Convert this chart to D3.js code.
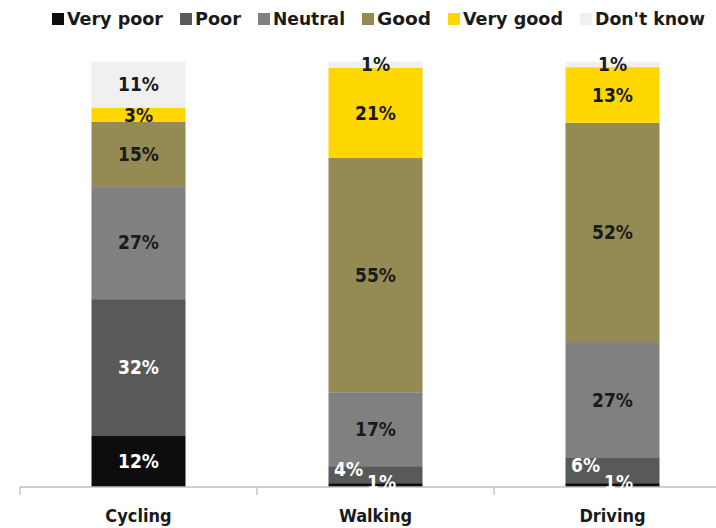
<!DOCTYPE html>
<html>
<head>
<meta charset="utf-8">
<script src="https://cdn.jsdelivr.net/npm/d3@7"></script>
<style>
  body { margin: 0; background: #fff; }
  svg { display: block; font-family: "DejaVu Sans Condensed", "Liberation Sans", sans-serif; font-weight: bold; }
</style>
</head>
<body>
<svg id="chart"></svg>
<script>
const categories = ['Cycling', 'Walking', 'Driving'];
const seriesNames = ['Very poor', 'Poor', 'Neutral', 'Good', 'Very good', "Don't know"];
// shares (labels show them rounded)
const veryPoor = [12.0, 0.9, 0.9];
const poor = [32.2, 4.0, 6.1];
const neutral = [26.6, 17.4, 27.1];
const good = [15.1, 55.1, 51.6];
const veryGood = [3.4, 21.3, 13.1];
const dontKnow = [10.8, 1.4, 1.3];

const colors = ['#0d0d0d', '#595959', '#808080', '#948a54', '#ffd700', '#f0f0f0'];
const labelColors = ['#ffffff', '#ffffff', '#1a1a1a', '#1a1a1a', '#1a1a1a', '#1a1a1a'];

// manual nudges for labels that don't fit in thin segments (category|series -> [dx, dy])
const labelNudge = {
  'Walking|Very poor': [6, -3],
  'Walking|Poor': [-27, -6],
  'Driving|Very poor': [6, -3],
  'Driving|Poor': [-27, -5]
};
// legend text widths to mimic the original narrow font
const legendWidths = [96, 46, 72, 54, 100, 110];

const W = 716, H = 528;
const svg = d3.select('#chart').attr('width', W).attr('height', H);

const rows = categories.map((c, i) => {
  const r = { category: c };
  [veryPoor, poor, neutral, good, veryGood, dontKnow].forEach((arr, j) => { r[seriesNames[j]] = arr[i]; });
  return r;
});
const stacked = d3.stack().keys(seriesNames)(rows);

const x = d3.scaleBand().domain(categories).range([20, 731]).paddingInner(0).paddingOuter(0);
const barW = 94;
const y = d3.scaleLinear().domain([0, 100]).range([487, 62]);

// bars
const layers = svg.append('g').selectAll('g')
  .data(stacked)
  .enter().append('g')
  .attr('fill', (d, i) => colors[i]);

layers.selectAll('rect')
  .data(d => d)
  .enter().append('rect')
  .attr('x', d => x(d.data.category) + (x.bandwidth() - barW) / 2)
  .attr('width', barW)
  .attr('y', d => y(d[1]))
  .attr('height', d => y(d[0]) - y(d[1]));

// axis
const axis = svg.append('g')
  .attr('transform', 'translate(0,487)');
axis.append('line')
  .attr('x1', 20).attr('x2', W)
  .attr('stroke', '#bfbfbf').attr('stroke-width', 1.3);
axis.selectAll('.tick')
  .data(categories.concat(['_end']))
  .enter().append('line')
  .attr('x1', (d, i) => 20 + i * x.bandwidth())
  .attr('x2', (d, i) => 20 + i * x.bandwidth())
  .attr('y1', 0).attr('y2', 8)
  .attr('stroke', '#bfbfbf').attr('stroke-width', 1.3);
axis.selectAll('.cat')
  .data(categories)
  .enter().append('text')
  .attr('x', d => x(d) + x.bandwidth() / 2)
  .attr('y', 35)
  .attr('text-anchor', 'middle')
  .attr('font-size', 18)
  .attr('fill', '#1a1a1a')
  .text(d => d);

// value labels
stacked.forEach((layer, j) => {
  svg.append('g').selectAll('text')
    .data(layer)
    .enter().append('text')
    .attr('x', d => {
      const n = labelNudge[d.data.category + '|' + layer.key];
      return x(d.data.category) + x.bandwidth() / 2 + (n ? n[0] : 0);
    })
    .attr('y', d => {
      const n = labelNudge[d.data.category + '|' + layer.key];
      return (y(d[0]) + y(d[1])) / 2 + (n ? n[1] : 0);
    })
    .attr('dy', '0.36em')
    .attr('text-anchor', 'middle')
    .attr('font-size', 19)
    .attr('fill', labelColors[j])
    .text(d => Math.round(d[1] - d[0]) + '%');
});

// legend
const legend = svg.append('g');
let lx = 52;
seriesNames.forEach((name, i) => {
  legend.append('rect')
    .attr('x', lx).attr('y', 13)
    .attr('width', 12).attr('height', 12)
    .attr('fill', colors[i]);
  legend.append('text')
    .attr('x', lx + 15).attr('y', 25)
    .attr('font-size', 18)
    .attr('fill', '#1a1a1a')
    .attr('textLength', legendWidths[i])
    .attr('lengthAdjust', 'spacingAndGlyphs')
    .text(name);
  lx += 15 + legendWidths[i] + 17;
});
</script>
</body>
</html>
